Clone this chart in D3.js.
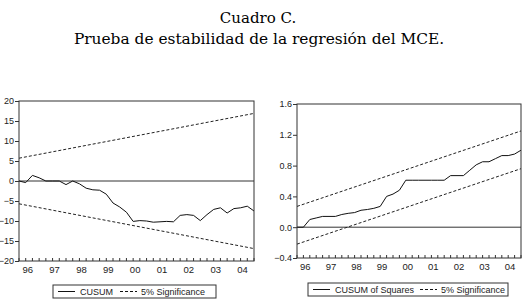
<!DOCTYPE html>
<html>
<head>
<meta charset="utf-8">
<script src="https://d3js.org/d3.v7.min.js"></script>
<style>
  body { margin: 0; background: #fff; }
  svg { display: block; }
  .tick text { font-family: "Liberation Sans", Arial, sans-serif; font-size: 9px; fill: #222; }
  .legend text { font-family: "Liberation Sans", Arial, sans-serif; font-size: 9px; fill: #222; }
</style>
</head>
<body>
<script>
// year labels on the x axis (quarterly data 1996Q1 - 2004Q4)
var years = ["96", "97", "98", "99", "00", "01", "02", "03", "04"];

// CUSUM, one value per quarter
var cusum = [0, -0.4, 1.4, 0.8, 0, 0, 0, -0.9, 0, -0.7, -1.8, -2.2,
  -2.3, -3.3, -5.5, -6.5, -7.8, -10.1, -9.9, -10.0, -10.3, -10.2, -10.1, -10.2,
  -8.6, -8.4, -8.6, -9.9, -8.4, -7.1, -6.7, -8.0, -6.9, -6.7, -6.3, -7.5];
// 5% bands (straight lines: first and last quarter)
var cusumUpper = [5.7, 16.9];
var cusumLower = [-5.7, -16.9];

// CUSUM of squares
var cusumSq = [0, 0, 0.10, 0.12, 0.14, 0.14, 0.14, 0.165, 0.18, 0.19, 0.22, 0.23,
  0.245, 0.27, 0.40, 0.43, 0.48, 0.61, 0.61, 0.61, 0.61, 0.61, 0.61, 0.61,
  0.67, 0.67, 0.67, 0.74, 0.81, 0.85, 0.85, 0.89, 0.93, 0.93, 0.95, 1.0];
var sqUpper = [0.27, 1.25];
var sqLower = [-0.22, 0.76];

var cusumTicks = [-20, -15, -10, -5, 0, 5, 10, 15, 20];
var sqTicks = [-0.4, 0.0, 0.4, 0.8, 1.2, 1.6];

var svg = d3.select("body").append("svg")
  .attr("width", 529)
  .attr("height", 307);

// title
svg.append("text")
  .attr("x", 258).attr("y", 23)
  .attr("text-anchor", "middle")
  .style("font-family", "'DejaVu Serif', serif")
  .style("font-size", "15px")
  .text("Cuadro C.");
svg.append("text")
  .attr("x", 259).attr("y", 44)
  .attr("text-anchor", "middle")
  .style("font-family", "'DejaVu Serif', serif")
  .style("font-size", "15.4px")
  .text("Prueba de estabilidad de la regresión del MCE.");

function drawPanel(o) {
  var n = o.values.length;
  var x = d3.scaleLinear().domain([0, n - 1]).range([o.left, o.right]);
  var y = d3.scaleLinear().domain(o.domain).range([o.bottom, o.top]);
  var g = svg.append("g");

  // y axis
  g.append("g")
    .attr("transform", "translate(" + o.left + ",0)")
    .call(d3.axisLeft(y).tickValues(o.ticks).tickSize(4).tickPadding(1).tickFormat(o.fmt))
    .call(a => a.select(".domain").remove())
    .call(a => a.selectAll("line").attr("stroke", "#333"));

  // quarterly ticks along bottom, pointing in
  g.selectAll(".qt")
    .data(d3.range(n))
    .enter().append("line")
    .attr("x1", d => x(d)).attr("x2", d => x(d))
    .attr("y1", o.bottom).attr("y2", o.bottom - 3)
    .attr("stroke", "#333");

  // year labels
  g.selectAll(".yl")
    .data(years)
    .enter().append("text")
    .attr("x", (d, i) => x(i * 4 + 1.3))
    .attr("y", o.bottom + 12)
    .attr("text-anchor", "middle")
    .style("font-family", "'Liberation Sans', Arial, sans-serif")
    .style("font-size", "9.5px")
    .style("fill", "#222")
    .text(d => d);

  // zero line
  g.append("line")
    .attr("x1", o.left).attr("x2", o.right)
    .attr("y1", y(0)).attr("y2", y(0))
    .attr("stroke", "#333").attr("stroke-width", 1);

  // bands
  [o.upper, o.lower].forEach(function (b) {
    g.append("line")
      .attr("x1", x(0)).attr("x2", x(n - 1))
      .attr("y1", y(b[0])).attr("y2", y(b[1]))
      .attr("stroke", "#222").attr("stroke-width", 1)
      .attr("stroke-dasharray", "3,2");
  });

  // series
  var line = d3.line().x((d, i) => x(i)).y(d => y(d));
  g.append("path")
    .datum(o.values)
    .attr("d", line)
    .attr("fill", "none")
    .attr("stroke", "#111")
    .attr("stroke-width", 1);

  // frame
  g.append("rect")
    .attr("x", o.left).attr("y", o.top)
    .attr("width", o.right - o.left).attr("height", o.bottom - o.top)
    .attr("fill", "none").attr("stroke", "#333").attr("stroke-width", 1);

  // legend
  var lg = svg.append("g").attr("class", "legend");
  lg.append("rect")
    .attr("x", o.lx).attr("y", o.ly)
    .attr("width", o.lw).attr("height", 13)
    .attr("fill", "#fff").attr("stroke", "#333");
  lg.append("line")
    .attr("x1", o.lx + 5).attr("x2", o.lx + 22)
    .attr("y1", o.ly + 6.5).attr("y2", o.ly + 6.5)
    .attr("stroke", "#111");
  lg.append("text")
    .attr("x", o.lx + 27).attr("y", o.ly + 10)
    .text(o.name);
  lg.append("line")
    .attr("x1", o.dx).attr("x2", o.dx + 17)
    .attr("y1", o.ly + 6.5).attr("y2", o.ly + 6.5)
    .attr("stroke", "#111").attr("stroke-dasharray", "3,2");
  lg.append("text")
    .attr("x", o.dx + 21).attr("y", o.ly + 10)
    .text("5% Significance");
}

drawPanel({
  values: cusum, upper: cusumUpper, lower: cusumLower,
  domain: [-20, 20], ticks: cusumTicks, fmt: d3.format("d"),
  left: 19, right: 254, top: 101, bottom: 261,
  name: "CUSUM", lx: 53, ly: 285, lw: 163, dx: 120
});

drawPanel({
  values: cusumSq, upper: sqUpper, lower: sqLower,
  domain: [-0.4, 1.6], ticks: sqTicks, fmt: d3.format(".1f"),
  left: 297, right: 521, top: 104, bottom: 258,
  name: "CUSUM of Squares", lx: 308, ly: 283, lw: 200, dx: 420
});
</script>
</body>
</html>
